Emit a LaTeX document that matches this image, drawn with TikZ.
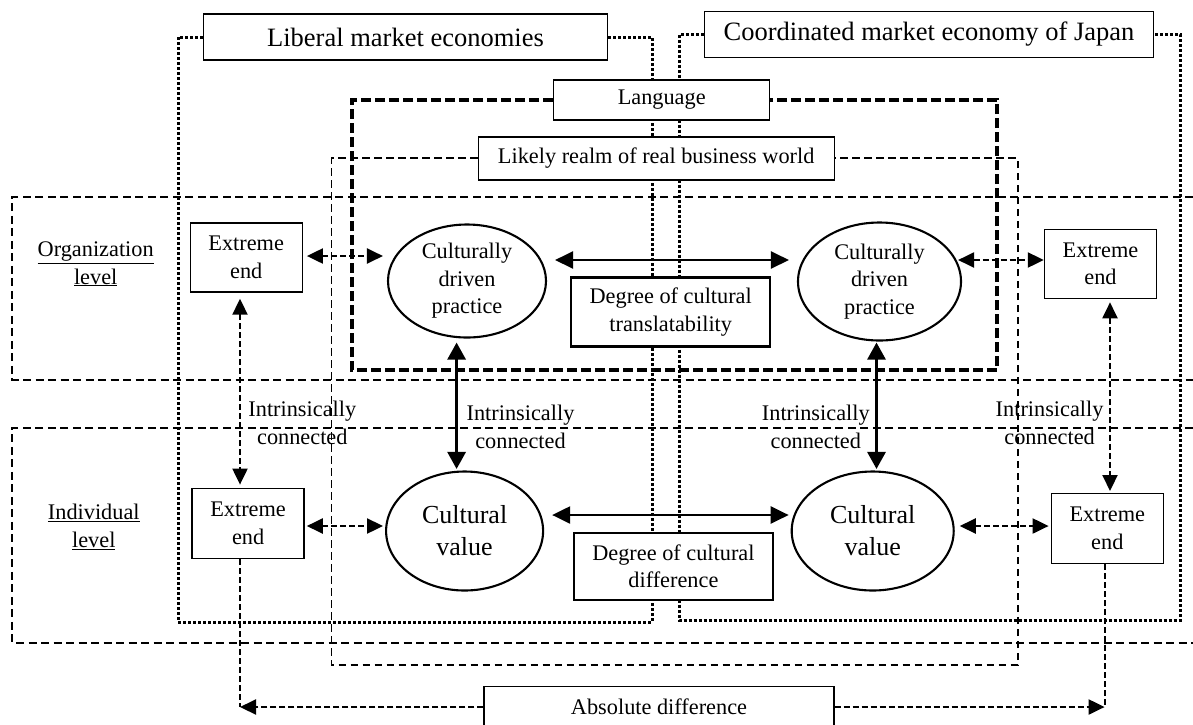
\documentclass[tikz,border=0pt]{standalone}
\usepackage{fontspec}
\setmainfont{Liberation Serif}
\usetikzlibrary{arrows.meta,shapes.geometric,calc,backgrounds}

\newcommand\txtS{\fontsize{22.3}{27.5}\selectfont}
\newcommand\txtM{\fontsize{26}{32}\selectfont}
\newcommand\txtL{\fontsize{26.5}{32}\selectfont}

\begin{document}
\begin{tikzpicture}[x=1pt,y=-1pt,
  labelbox/.style={draw, line width=1.4pt, fill=white, inner sep=0pt, align=center},
  degbox/.style={draw, line width=2.1pt, fill=white, inner sep=0pt, align=center, font=\txtS, minimum width=199pt},
  endbox/.style={draw, line width=1.4pt, fill=white, inner sep=0pt, align=center, font=\txtS, minimum width=112pt, minimum height=69pt},
  culture/.style={draw, ellipse, line width=2.1pt, fill=white, inner sep=0pt, align=center},
  plain/.style={inner sep=0pt, align=center, font=\txtS},
  dotframe/.style={line width=3pt, dash pattern=on 3pt off 2pt},
  levelframe/.style={line width=2.1pt, dash pattern=on 8pt off 4.5pt},
  langframe/.style={line width=3.2pt, dash pattern=on 10pt off 4pt},
  realmframe/.style={line width=1.8pt, dash pattern=on 7.5pt off 4.5pt},
  dline/.style={line width=2.1pt, dash pattern=on 6pt off 3pt, >={Triangle[length=16pt,width=15pt]}},
  dlink/.style={dline, <->},
  hlink/.style={line width=2.3pt, >={Triangle[length=18pt,width=17pt]}, <->},
  vlink/.style={line width=2.9pt, >={Triangle[length=17pt,width=18pt]}, <->}
]
\useasboundingbox (0,0) rectangle (1193,724);

% headings of the two economies and the inner frames
\node[labelbox, font=\txtL, minimum width=404pt, minimum height=46pt] (lme) at (405.5,37) {Liberal market economies};
\node[labelbox, font=\txtL, minimum width=449pt, minimum height=46pt] (cme) at (929,34.5) {Coordinated market economy of Japan};
\node[labelbox, font=\txtS, minimum width=216pt, minimum height=40pt] (lang) at (661.7,100) {Language};
\node[labelbox, font=\txtS, minimum width=356pt, minimum height=43pt] (realm) at (656.2,158.3) {Likely realm of real business world};

% level captions
\node[plain] (orglvl) at (95.7,264) {\underline{Organization}\\\underline{level}};
\node[plain] (indlvl) at (93.8,526.7) {\underline{Individual}\\\underline{level}};

% extreme ends
\node[endbox] (eul) at (246.2,257.5) {Extreme\\end};
\node[endbox] (eur) at (1100.5,263.7) {Extreme\\end};
\node[endbox, minimum height=70pt] (ell) at (248.1,523.3) {Extreme\\end};
\node[endbox, minimum height=70pt] (elr) at (1107.3,528.3) {Extreme\\end};

% practices and values
\node[culture, font=\txtS, minimum width=158pt, minimum height=113pt] (ol) at (467,281) {Culturally\\driven\\practice};
\node[culture, font=\txtS, minimum width=163pt, minimum height=118pt] (or) at (879.5,281.5) {Culturally\\driven\\practice};
\node[culture, font=\txtM, minimum width=157pt, minimum height=119pt] (il) at (464.6,531) {Cultural\\value};
\node[culture, font=\txtM, minimum width=162pt, minimum height=119pt] (ir) at (872.7,531) {Cultural\\value};

% degrees between the two sides
\node[degbox, minimum height=69pt] (dtrans) at (670.7,312) {Degree of cultural\\translatability};
\node[degbox, minimum height=67pt] (ddiff) at (673.4,566.4) {Degree of cultural\\difference};

\node[labelbox, font=\txtS, minimum width=350pt, minimum height=41pt] (abs) at (659,707) {Absolute difference};

% connection captions
\node[plain] (ic1) at (302.3,423) {Intrinsically\\connected};
\node[plain] (ic2) at (520.5,426.7) {Intrinsically\\connected};
\node[plain] (ic3) at (815.8,426.7) {Intrinsically\\connected};
\node[plain] (ic4) at (1049.6,423) {Intrinsically\\connected};

% frames behind everything
\begin{scope}[on background layer]
  \draw[levelframe] (1193,196.7) -| (12.2,380) -- (1193,380);
  \draw[levelframe] (1193,427.7) -| (12.2,643) -- (1193,643);
  \draw[realmframe] (realm.west) -| (331.4,665) -- (1017.7,665) |- (realm.east);
  \draw[langframe] (lang.west) -| (352,370) -- (997,370) |- (lang.east);
  \draw[dotframe] (lme.west) -| (178,622) -- (652,622) |- (lme.east);
  \draw[dotframe] (cme.west) -| (679,620) -- (1180.4,620) |- (cme.east);
\end{scope}

% links to the extreme ends
\draw[dlink] ($(eul.east)+(4,-1.5)$) -- ($(ol.west)+(-4,-25)$);
\draw[dlink] ($(or.east)+(-4,-21.5)$) -- ($(eur.west)+(0,-3.7)$);
\draw[dlink] ($(ell.east)+(2,2.7)$) -- ($(il.west)+(-2,-5)$);
\draw[dlink] ($(ir.east)+(5,-5)$) -- ($(elr.west)+(-2,-2.3)$);
\draw[dlink] ($(eul.south)+(-6.2,6)$) -- ($(ell.north)+(-8.1,-3)$);
\draw[dlink] ($(eur.south)+(9.5,3.4)$) -- ($(elr.north)+(2.7,-1.6)$);

% links across and between levels
\draw[hlink] ($(ol.east)+(8,-21)$) -- ($(or.west)+(-8,-21.5)$);
\draw[hlink] ($(il.east)+(8,-16)$) -- ($(ir.west)+(-2,-16)$);
\draw[vlink] ($(ol.south)+(-10.4,4)$) -- ($(il.north)+(-8,-1.5)$);
\draw[vlink] ($(or.south)+(-3,1)$) -- ($(ir.north)+(3.8,-1.5)$);

% absolute difference between the individual extremes
\coordinate (clx) at ($(ell.south)+(-8.1,0)$);
\coordinate (cl) at (clx |- abs.west);
\coordinate (crx) at ($(elr.south)+(-2.7,0)$);
\coordinate (cr) at (crx |- abs.east);
\draw[dline] (clx) -- (cl);
\draw[dline, ->] (abs.west) -- (cl);
\draw[dline] (crx) -- (cr);
\draw[dline, ->] (abs.east) -- (cr);
\end{tikzpicture}
\end{document}
